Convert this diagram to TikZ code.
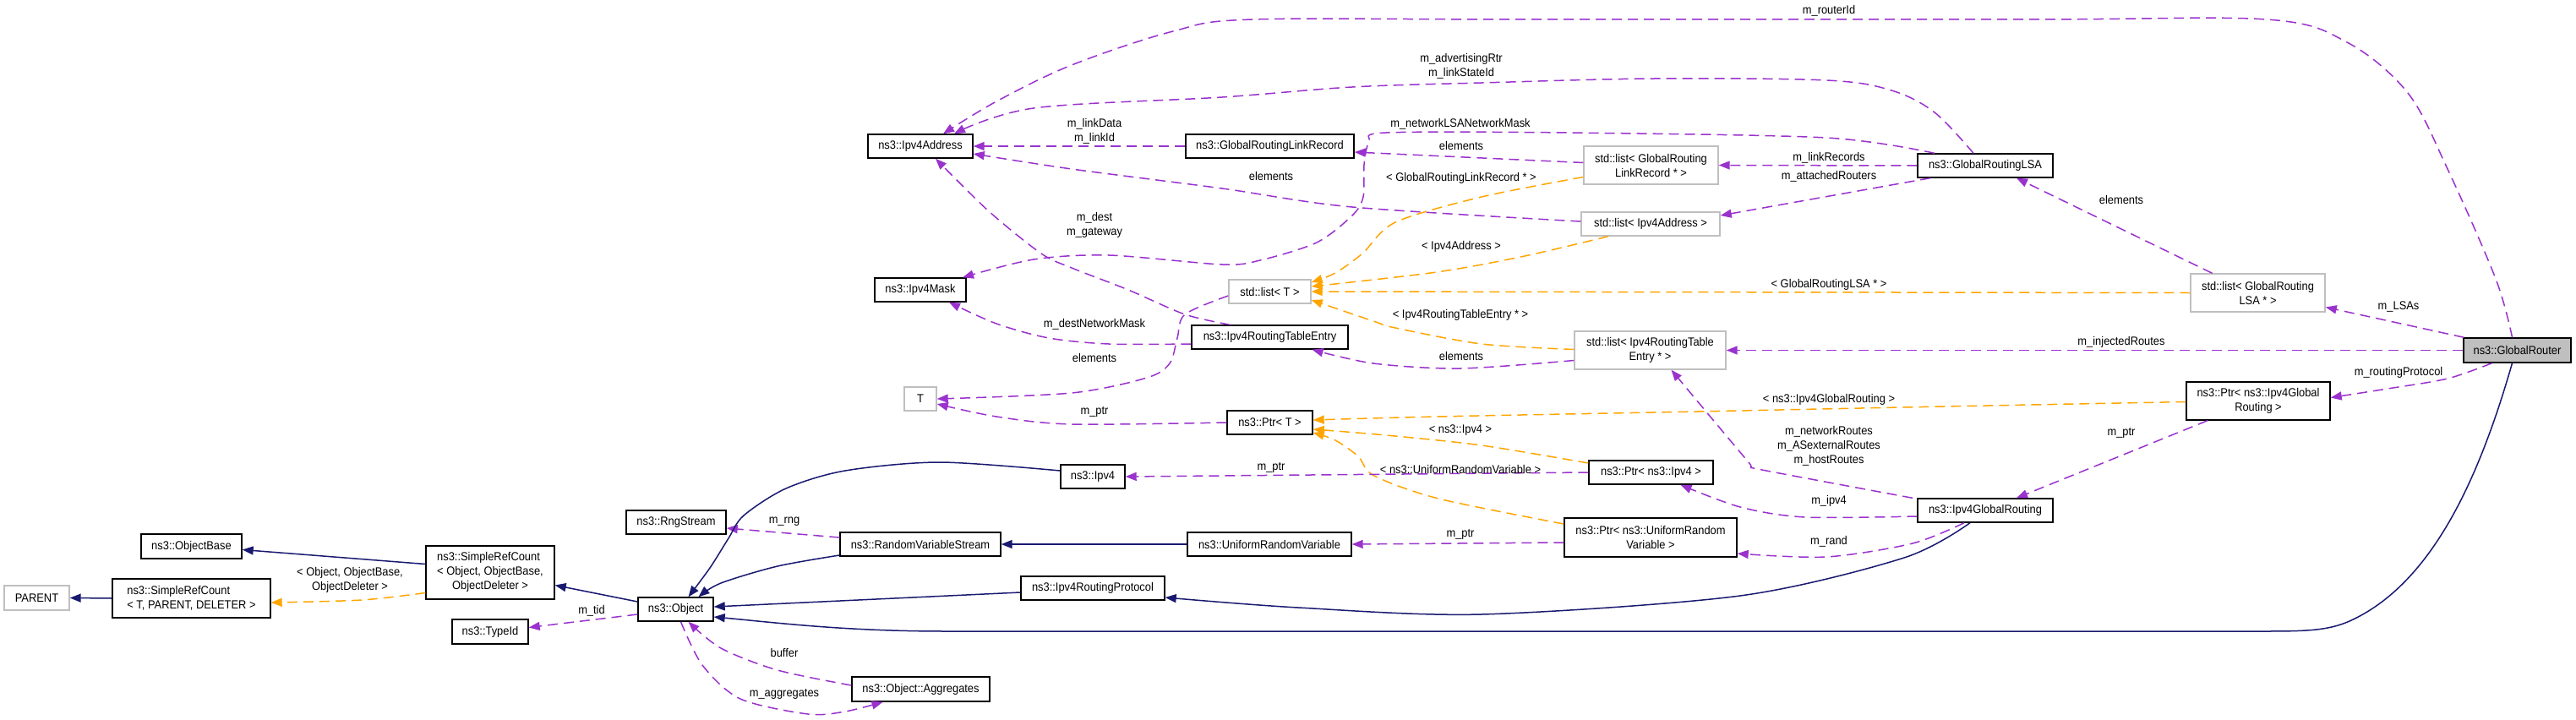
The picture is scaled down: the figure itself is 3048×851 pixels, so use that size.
\documentclass[tikz,border=0pt]{standalone}
\usepackage{fontspec}
\setmainfont{Liberation Sans}[FakeStretch=0.92]
\usetikzlibrary{arrows.meta}
\definecolor{usec}{HTML}{9A32CD}
\definecolor{tmplc}{HTML}{FFA500}
\definecolor{inhc}{HTML}{191970}
\definecolor{grayb}{HTML}{BFBFBF}
\begin{document}
\begin{tikzpicture}[x=1pt,y=-1pt,
  font=\fontsize{14}{17}\selectfont,
  cls/.style={draw=black, line width=1.4pt, fill=white, inner sep=0pt, align=center},
  tcls/.style={cls, draw=grayb},
  use/.style={draw=usec, line width=1.5pt, dash pattern=on 12pt off 7pt, -{Triangle[length=13pt,width=10pt]}},
  tmpl/.style={use, draw=tmplc},
  inh/.style={draw=inhc, line width=1.5pt, -{Triangle[length=13pt,width=10pt]}},
  lbl/.style={inner sep=0pt, align=center},
]
\useasboundingbox (0,0) rectangle (3048,851);
\fill[white] (0,0) rectangle (3048,851);

% nodes
\node[tcls, minimum width=77pt, minimum height=29pt] (parent) at (43.5,707.5) {PARENT};
\node[cls, minimum width=119pt, minimum height=29pt] (objbase) at (226.5,646.5) {ns3::ObjectBase};
\node[cls, minimum width=187pt, minimum height=46pt, align=left] (srcT) at (226.5,708) {ns3::SimpleRefCount\\< T, PARENT, DELETER >};
\node[cls, minimum width=152pt, minimum height=63pt] (srcObj) at (580,677.5) {\begin{tabular}{@{}l@{}}ns3::SimpleRefCount\\< Object, ObjectBase,\\\multicolumn{1}{@{}c@{}}{ObjectDeleter >}\end{tabular}};
\node[cls, minimum width=90pt, minimum height=29pt] (typeid) at (580,747.5) {ns3::TypeId};
\node[cls, minimum width=89pt, minimum height=28pt] (object) at (799.5,721) {ns3::Object};
\node[cls, minimum width=118pt, minimum height=28pt] (rng) at (800,618) {ns3::RngStream};
\node[cls, minimum width=163pt, minimum height=29pt] (aggr) at (1089.5,815.5) {ns3::Object::Aggregates};
\node[cls, minimum width=190pt, minimum height=28pt] (rvs) at (1089,644) {ns3::RandomVariableStream};
\node[cls, minimum width=194pt, minimum height=28pt] (urv) at (1502,644) {ns3::UniformRandomVariable};
\node[cls, minimum width=170pt, minimum height=28pt] (ipv4rp) at (1293,696) {ns3::Ipv4RoutingProtocol};
\node[cls, minimum width=76pt, minimum height=28pt] (ipv4) at (1293,564) {ns3::Ipv4};
\node[cls, minimum width=124pt, minimum height=28pt] (ipv4addr) at (1089,173) {ns3::Ipv4Address};
\node[cls, minimum width=199pt, minimum height=28pt] (grlr) at (1502.5,173) {ns3::GlobalRoutingLinkRecord};
\node[cls, minimum width=108pt, minimum height=28pt] (ipv4mask) at (1089,343) {ns3::Ipv4Mask};
\node[tcls, minimum width=97pt, minimum height=28pt] (listT) at (1502.5,345) {std::list< T >};
\node[cls, minimum width=185pt, minimum height=28pt] (rte) at (1502.5,399) {ns3::Ipv4RoutingTableEntry};
\node[tcls, minimum width=38pt, minimum height=28pt] (T) at (1089,472) {T};
\node[cls, minimum width=101pt, minimum height=28pt] (ptrT) at (1502.5,500) {ns3::Ptr< T >};
\node[tcls, minimum width=159pt, minimum height=45pt] (listGRLR) at (1953.5,195.5) {std::list< GlobalRouting\\LinkRecord * >};
\node[tcls, minimum width=164pt, minimum height=28pt] (listIpv4Addr) at (1953,265) {std::list< Ipv4Address >};
\node[tcls, minimum width=179pt, minimum height=45pt] (listRTE) at (1952.5,414.5) {std::list< Ipv4RoutingTable\\Entry * >};
\node[cls, minimum width=147pt, minimum height=28pt] (ptrIpv4) at (1953.5,559) {ns3::Ptr< ns3::Ipv4 >};
\node[cls, minimum width=204pt, minimum height=46pt] (ptrURV) at (1953,636) {ns3::Ptr< ns3::UniformRandom\\Variable >};
\node[cls, minimum width=160pt, minimum height=28pt] (grlsa) at (2349,196) {ns3::GlobalRoutingLSA};
\node[cls, minimum width=160pt, minimum height=28pt] (ipv4gr) at (2349,604) {ns3::Ipv4GlobalRouting};
\node[tcls, minimum width=159pt, minimum height=45pt] (listLSA) at (2671.5,346.5) {std::list< GlobalRouting\\LSA * >};
\node[cls, minimum width=170pt, minimum height=45pt] (ptrGR) at (2672,474.5) {ns3::Ptr< ns3::Ipv4Global\\Routing >};
\node[cls, fill=grayb, minimum width=127pt, minimum height=29pt] (gr) at (2978.5,414.5) {ns3::GlobalRouter};

% edges
\draw[use] plot[smooth,tension=0.55] coordinates {([xshift=-6pt]gr.north) (2953,330) (2896,200) (2849,110) (2777,50) (2682,23) (2400,23) (1800,23) (1482,23) (1388,37) (1268,77) (1179,120) ([xshift=27pt]ipv4addr.north)};
\draw[use] plot[smooth,tension=0.55] coordinates {([xshift=-14pt]grlsa.north) (2289,133) (2238,107) (2161,95) (1957,93) (1753,98) (1600,103) (1446,115) (1223,128) ([xshift=40pt]ipv4addr.north)};
\draw[use] (grlr.west) -- (ipv4addr.east);
\draw[use] ([yshift=3pt]listGRLR.west) -- ([yshift=-7pt]grlr.east);
\draw[use] plot[smooth,tension=0.5] coordinates {([xshift=-60pt]grlsa.north) (2161,163) (1855,157) (1640,157) (1620,168) (1614,195) (1613,233) (1600,255) (1558,287) (1491,308) (1446,313) (1312,302) (1223,307) ([xshift=50pt]ipv4mask.north)};
\draw[use] plot[smooth,tension=0.5] coordinates {([yshift=3pt]listIpv4Addr.west) (1600,245) (1446,223) (1268,200) ([yshift=-9pt]ipv4addr.east)};
\draw[use] plot[smooth,tension=0.5] coordinates {([xshift=-47pt]rte.north) (1402,372) (1335,343) (1268,317) (1232,300) (1170,250) ([xshift=18pt]ipv4addr.south)};
\draw[use] plot[smooth,tension=0.5] coordinates {([yshift=-8pt]rte.west) (1312,407) (1241,400) (1179,383) ([xshift=34pt]ipv4mask.south)};
\draw[use] (grlsa.west) -- (listGRLR.east);
\draw[use] ([xshift=-65pt]grlsa.south) -- ([yshift=10pt]listIpv4Addr.east);
\draw[use] ([xshift=-54pt]listLSA.north) -- ([xshift=37pt]grlsa.south);
\draw[use] ([xshift=-63pt]gr.north) -- ([yshift=-17pt]listLSA.east);
\draw[use] (gr.west) -- (listRTE.east);
\draw[use] plot[smooth,tension=0.5] coordinates {([xshift=-30pt]gr.south) (2896,448) (2825,460) ([yshift=4pt]ptrGR.east)};
\draw[use] ([xshift=-60pt]ptrGR.south) -- ([xshift=37pt]ipv4gr.north);
\draw[tmpl] plot[smooth,tension=0.5] coordinates {([yshift=-14pt]listGRLR.west) (1753,233) (1651,263) (1612,300) (1580,323) ([yshift=11pt]listT.east)};
\draw[tmpl] plot[smooth,tension=0.5] coordinates {([xshift=-50pt]listIpv4Addr.south) (1804,303) (1700,322) ([yshift=6pt]listT.east)};
\draw[tmpl] (listLSA.west) -- (listT.east);
\draw[tmpl] plot[smooth,tension=0.5] coordinates {([yshift=1pt]listRTE.west) (1753,407) (1651,388) (1625,380) ([yshift=-10pt]listT.east)};
\draw[use] plot[smooth,tension=0.5] coordinates {([yshift=-12pt]listRTE.west) (1728,436) (1625,430) ([xshift=50pt]rte.south)};
\draw[use] plot[smooth,tension=0.5] coordinates {([yshift=-5pt]listT.west) (1402,372) (1393,400) (1384,430) (1357,447) (1268,465) (T.east)};
\draw[use] plot[smooth,tension=0.5] coordinates {(ptrT.west) (1268,502) (1179,493) ([yshift=-6pt]T.east)};
\draw[tmpl] plot[smooth,tension=0.5] coordinates {([yshift=-1pt]ptrGR.west) (2300,481) (2008,487) (1700,493) ([yshift=3pt]ptrT.east)};
\draw[tmpl] plot[smooth,tension=0.5] coordinates {([yshift=11pt]ptrIpv4.west) (1753,527) (1640,515) ([yshift=-8pt]ptrT.east)};
\draw[tmpl] plot[smooth,tension=0.5] coordinates {([yshift=16pt]ptrURV.west) (1702,590) (1626,563) (1607,540) (1580,521) ([yshift=-12pt]ptrT.east)};
\draw[use] (ptrIpv4.west) -- (ipv4.east);
\draw[use] plot[smooth,tension=0.3] coordinates {([xshift=-86pt]ipv4gr.north) (2080,555) (2069,547) ([xshift=25pt]listRTE.south)};
\draw[use] plot[smooth,tension=0.5] coordinates {([yshift=-7pt]ipv4gr.west) (2136,612) (2059,600) ([xshift=35pt]ptrIpv4.south)};
\draw[use] plot[smooth,tension=0.5] coordinates {([xshift=-25pt]ipv4gr.south) (2263,643) (2161,659) ([yshift=-19pt]ptrURV.east)};
\draw[use] ([yshift=-6pt]ptrURV.west) -- (urv.east);
\draw[inh] (urv.west) -- (rvs.east);
\draw[use] ([yshift=8pt]rvs.west) -- ([yshift=-7pt]rng.east);
\draw[inh] plot[smooth,tension=0.5] coordinates {([yshift=-13pt]rvs.west) (920,670) (853,690) ([xshift=27pt]object.north)};
\draw[inh] plot[smooth,tension=0.5] coordinates {([yshift=7pt]ipv4.west) (1112,547) (1000,557) (930,578) (880,610) (862,637) (840,672) ([xshift=15pt]object.north)};
\draw[inh] ([yshift=-5pt]ipv4rp.west) -- ([yshift=3pt]object.east);
\draw[inh] ([xshift=-6pt]gr.south) .. controls (2935,560) and (2880,690) .. (2780,735) .. controls (2755,746) and (2730,747) .. (2680,747) -- (1120,747) .. controls (1000,747) and (920,737) .. ([yshift=-9pt]object.east);
\draw[inh] plot[smooth,tension=0.5] coordinates {([xshift=-18pt]ipv4gr.south) (2253,660) (2059,705) (1753,727) (1536,719) ([yshift=-11pt]ipv4rp.east)};
\draw[inh] ([yshift=10pt]srcObj.west) -- ([yshift=-4pt]objbase.east);
\draw[inh] ([yshift=9pt]object.west) -- ([yshift=-15pt]srcObj.east);
\draw[inh] (srcT.west) -- (parent.east);
\draw[tmpl] plot[smooth,tension=0.5] coordinates {([yshift=-24pt]srcObj.west) (428,710) ([yshift=-5pt]srcT.east)};
\draw[use] ([yshift=-6pt]object.west) -- ([yshift=5pt]typeid.east);
\draw[use] plot[smooth,tension=0.5] coordinates {([yshift=4.5pt]aggr.west) (920,793) (853,767) ([xshift=15pt]object.south)};
\draw[use] plot[smooth,tension=0.5] coordinates {([xshift=6pt]object.south) (831,787) (876,827) (956,845) (1000,842) ([xshift=-45pt]aggr.south)};

% labels
\node[lbl] (l1) at (2164,13) {m\_routerId};
\node[lbl] (l2) at (1729,78) {m\_advertisingRtr\\m\_linkStateId};
\node[lbl] (l3) at (1295,155) {m\_linkData\\m\_linkId};
\node[lbl] (l4) at (1729,172) {elements};
\node[lbl] (l5) at (1728,147) {m\_networkLSANetworkMask};
\node[lbl] (l6) at (1504,208) {elements};
\node[lbl] (l7) at (1295,266) {m\_dest\\m\_gateway};
\node[lbl] (l8) at (2164,187) {m\_linkRecords};
\node[lbl] (l9) at (2164,209) {m\_attachedRouters};
\node[lbl] (l10) at (2510,236) {elements};
\node[lbl] (l11) at (1729,211) {< GlobalRoutingLinkRecord * >};
\node[lbl] (l12) at (1729,292) {< Ipv4Address >};
\node[lbl] (l13) at (1295,384) {m\_destNetworkMask};
\node[lbl] (l14) at (1295,423) {elements};
\node[lbl] (l15) at (1295,487) {m\_ptr};
\node[lbl] (l16) at (2164,337) {< GlobalRoutingLSA * >};
\node[lbl] (l17) at (1728,373) {< Ipv4RoutingTableEntry * >};
\node[lbl] (l18) at (1729,421) {elements};
\node[lbl] (l19) at (2838,363) {m\_LSAs};
\node[lbl] (l20) at (2510,405) {m\_injectedRoutes};
\node[lbl] (l21) at (2838,441) {m\_routingProtocol};
\node[lbl] (l22) at (2164,473) {< ns3::Ipv4GlobalRouting >};
\node[lbl] (l23) at (1728,509) {< ns3::Ipv4 >};
\node[lbl] (l24) at (2164,528) {m\_networkRoutes\\m\_ASexternalRoutes\\m\_hostRoutes};
\node[lbl] (l25) at (2510,512) {m\_ptr};
\node[lbl] (l26) at (1728,555) {< ns3::UniformRandomVariable >};
\node[lbl] (l27) at (1504,553) {m\_ptr};
\node[lbl] (l28) at (2164,593) {m\_ipv4};
\node[lbl] (l29) at (2164,641) {m\_rand};
\node[lbl] (l30) at (1728,632) {m\_ptr};
\node[lbl] (l31) at (928,617) {m\_rng};
\node[lbl] (l32) at (700,723) {m\_tid};
\node[lbl] (l33) at (928,772) {buffer};
\node[lbl] (l34) at (928,821) {m\_aggregates};
\node[lbl] (l35) at (414,686.5) {< Object, ObjectBase,\\ObjectDeleter >};
\end{tikzpicture}
\end{document}
